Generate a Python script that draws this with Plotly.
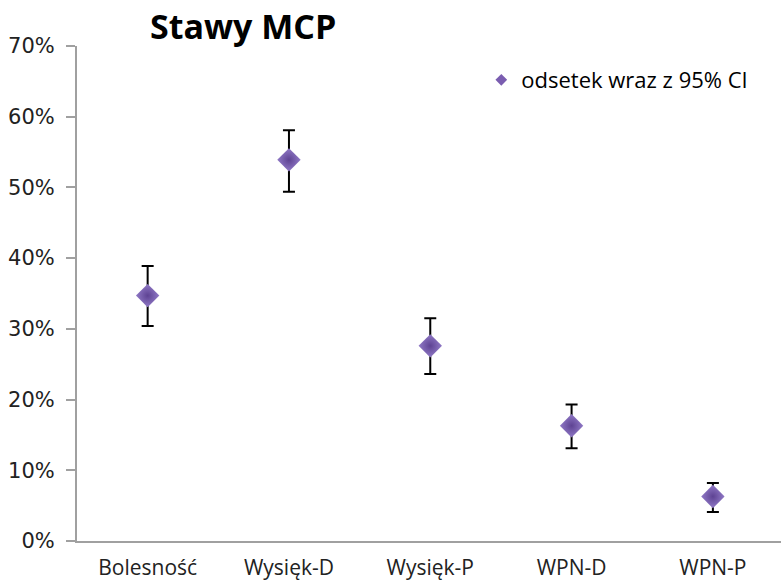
import plotly.graph_objects as go

categories = ["Bolesność", "Wysięk-D", "Wysięk-P", "WPN-D", "WPN-P"]
odsetek = [0.347, 0.539, 0.276, 0.163, 0.063]
ci_upper = [0.389, 0.581, 0.315, 0.193, 0.082]
ci_lower = [0.304, 0.494, 0.236, 0.131, 0.041]
y_ticks = [0, 0.1, 0.2, 0.3, 0.4, 0.5, 0.6, 0.7]
y_tick_labels = ["0%", "10%", "20%", "30%", "40%", "50%", "60%", "70%"]

err_plus = [u - v for u, v in zip(ci_upper, odsetek)]
err_minus = [v - l for v, l in zip(odsetek, ci_lower)]

W, H = 781, 584
L, R, T, B = 77, 0, 46, 43

fig = go.Figure()
fig.add_trace(go.Scatter(
    x=list(range(len(categories))), y=odsetek, mode="markers",
    showlegend=False,
    marker=dict(symbol="diamond", size=18, color="#9079c6",
                gradient=dict(type="radial", color="#5e4393"),
                line=dict(width=0)),
    error_y=dict(type="data", symmetric=False, array=err_plus, arrayminus=err_minus,
                 color="#000000", thickness=2, width=6),
))
fig.add_trace(go.Scatter(
    x=[None], y=[None], mode="markers", name="odsetek wraz z 95% CI",
    marker=dict(symbol="diamond", size=9, color="#7a5db0", line=dict(width=0)),
))

fig.update_layout(
    width=W, height=H,
    margin=dict(l=L, r=R, t=T, b=B, autoexpand=False),
    paper_bgcolor="white", plot_bgcolor="white",
    title=dict(text="<b>Stawy MCP</b>", x=150 / W, xanchor="left", xref="container",
               y=1 - 27 / H, yanchor="middle", yref="container",
               font=dict(family="Open Sans", size=34, color="#000000")),
    legend=dict(x=0.5743, y=1 - (80 - T) / (H - T - B), xanchor="left", yanchor="middle",
                font=dict(family="Open Sans", size=22, color="#000000"),
                bgcolor="rgba(0,0,0,0)", itemclick=False),
    showlegend=True,
)
fig.update_xaxes(
    range=[-0.5, 4.482], tickmode="array", tickvals=list(range(len(categories))),
    ticktext=categories, showgrid=False, zeroline=False, showline=True,
    linecolor="#a0a0a0", linewidth=2, ticks="", ticklabelstandoff=7,
    tickfont=dict(family="Open Sans", size=21, color="#222222"), automargin=False,
)
fig.update_yaxes(
    range=[0, 0.7], tickmode="array", tickvals=y_ticks, ticktext=y_tick_labels,
    showgrid=False, zeroline=False, showline=True, linecolor="#a0a0a0", linewidth=2,
    ticks="outside", ticklen=9, tickwidth=2, tickcolor="#a0a0a0", ticklabelstandoff=7,
    tickfont=dict(family="DejaVu Sans", size=21, color="#222222"), automargin=False,
)

fig.write_html("out.html")
